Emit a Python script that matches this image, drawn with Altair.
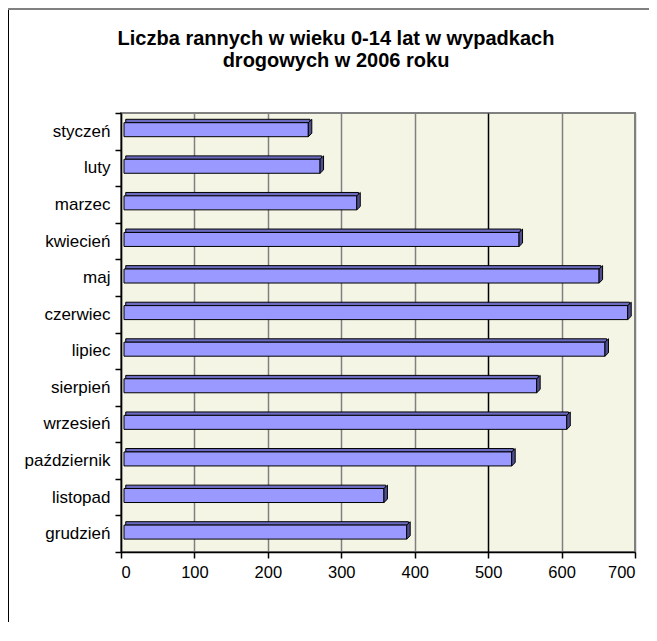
import altair as alt
import pandas as pd

months = ["styczeń", "luty", "marzec", "kwiecień", "maj", "czerwiec",
          "lipiec", "sierpień", "wrzesień", "październik", "listopad", "grudzień"]
values = [251, 267, 317, 538, 647, 686, 655, 562, 603, 528, 354, 385]
x_ticks = [0, 100, 200, 300, 400, 500, 600, 700]
title_lines = ["Liczba rannych w wieku 0-14 lat w wypadkach", "drogowych w 2006 roku"]

df = pd.DataFrame({"miesiac": months, "wartosc": values})

FONT = "Liberation Sans"

y_enc = alt.Y(
    "miesiac:N",
    sort=months,
    scale=alt.Scale(domain=months, paddingInner=0, paddingOuter=0),
    axis=alt.Axis(
        title=None, orient="left", domainColor="black", domainWidth=1.5,
        tickColor="black", tickSize=6, tickWidth=1.5, tickBand="extent",
        labelFontSize=17, labelColor="black", labelFont=FONT, labelPadding=5,
        grid=False,
    ),
)
x_enc = alt.X(
    "wartosc:Q",
    scale=alt.Scale(domain=[0, 700], nice=False, zero=True),
    axis=alt.Axis(
        title=None, values=x_ticks, domainColor="black", domainWidth=1.5,
        tickColor="black", tickSize=6, tickWidth=1.5,
        labelFontSize=16.5, labelColor="black", labelFont=FONT, labelPadding=6,
        grid=True, gridWidth=1.5,
        gridColor={"condition": {"test": "datum.value === 500", "value": "black"},
                   "value": "#808080"},
    ),
)

base = alt.Chart(df).encode(y=y_enc, x=x_enc, x2=alt.datum(0))

top_face = base.mark_bar(
    size=3.4, fill="#6B6BC2", stroke="black", strokeWidth=1,
    xOffset=4.75, x2Offset=4.75, yOffset=-10.3,
)
front_face = base.mark_bar(
    size=14, fill="#9999FF", stroke="black", strokeWidth=1,
    xOffset=3, x2Offset=3, yOffset=-1.6,
)
side_face = alt.Chart(df).mark_point(
    shape="M -0.175 -0.53 L 0.175 -0.87 L 0.175 0.53 L -0.175 0.87 Z",
    size=400, filled=True, fill="#4F4F90", stroke="black", strokeWidth=1,
    opacity=1, xOffset=4.75, yOffset=-3.3,
).encode(y=alt.Y("miesiac:N", sort=months), x=alt.X("wartosc:Q"))

border_left = alt.Chart(df).mark_rule(color="black", strokeWidth=2).encode(
    x=alt.value(-113), y=alt.value(-105), y2=alt.value(520)
)
border_top = alt.Chart(df).mark_rule(color="#808080", strokeWidth=2).encode(
    x=alt.value(-113), x2=alt.value(530), y=alt.value(-104)
)

chart = alt.layer(top_face, front_face, side_face, border_left, border_top).properties(
    width=514,
    height=439,
    background="white",
    autosize=alt.AutoSizeParams(type="none"),
    padding={"left": 113, "top": 105, "right": 14, "bottom": 70},
    title=alt.TitleParams(
        text=title_lines, fontSize=20, font=FONT, fontWeight="bold",
        color="black", lineHeight=22, anchor="middle", frame="group",
        dx=-42, offset=-64,
    ),
).configure_view(
    fill="#F5F5E6", stroke="#808080", strokeWidth=2
)

chart.save("out.html", embed_options={"renderer": "svg", "actions": False})
